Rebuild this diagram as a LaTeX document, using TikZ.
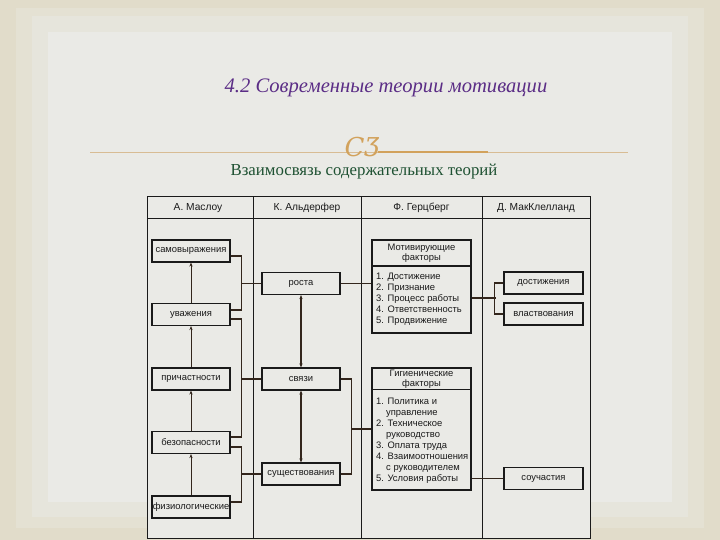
\documentclass[tikz,border=0pt]{standalone}
\usepackage{fontspec}
\setmainfont{Liberation Serif}
\setsansfont{Liberation Sans}
\newfontfamily\ornfont{DejaVu Serif}
\usetikzlibrary{arrows.meta}
\definecolor{bgA}{HTML}{E1DCCA}
\definecolor{bgB}{HTML}{E4E1D3}
\definecolor{bgC}{HTML}{E6E5DC}
\definecolor{bgD}{HTML}{EAEAE6}
\definecolor{ttl}{HTML}{5B2D86}
\definecolor{sub}{HTML}{1E5132}
\definecolor{gold}{HTML}{D2A25C}
\definecolor{tan}{HTML}{D8BC94}
\definecolor{ink}{HTML}{1A1A1A}
\definecolor{con}{HTML}{33261C}
\tikzset{
  box/.style={draw=ink, line width=1.2pt, fill=bgD, minimum width=78pt, minimum height=22pt,
    inner sep=0pt, font=\sffamily\fontsize{9.4}{11}\selectfont, text=ink},
  bigbox/.style={draw=ink, line width=1.2pt, fill=bgD, minimum width=99pt, inner sep=0pt},
  hdr/.style={font=\sffamily\fontsize{10.2}{11}\selectfont, text=ink},
  bhdr/.style={font=\sffamily\fontsize{9.4}{10.4}\selectfont, text=ink, align=center, inner sep=0pt},
  lst/.style={font=\sffamily\fontsize{9.4}{11}\selectfont, text=ink, align=left, anchor=north west, inner sep=0pt},
  conn/.style={draw=con, line width=1.1pt},
  thickconn/.style={draw=con, line width=1.8pt},
  uparr/.style={draw=con, line width=0.9pt, -{Stealth[length=4pt,width=3.2pt]}},
  dblarr/.style={draw=con, line width=1.1pt, {Stealth[length=4pt,width=3.2pt]}-{Stealth[length=4pt,width=3.2pt]}},
  tbl/.style={draw=ink, line width=1pt}
}
\begin{document}
\begin{tikzpicture}[x=1pt,y=-1pt]
\useasboundingbox (0,0) rectangle (720,540);
% background frame
\fill[bgA] (0,0) rectangle (720,540);
\fill[bgB] (16,8) rectangle (704,528);
\fill[bgC] (32,16) rectangle (688,517);
\fill[bgD] (48,32) rectangle (672,502);

% title
\node[text=ttl, font=\fontsize{20.6}{24}\selectfont\itshape] (title) at (386,88) {4.2 Современные теории мотивации};

% ornament line
\draw[tan, line width=0.8pt] (90,152) -- (628,152);
\draw[gold, line width=1.8pt] (378,152) -- (488,152);
\node[text=gold, font=\ornfont\fontsize{26}{26}\selectfont\itshape, inner sep=0pt] (orn) at (362,147.5) {CƷ};

% subtitle
\node[text=sub, font=\fontsize{16.8}{18}\selectfont] (subtitle) at (364,172) {Взаимосвязь содержательных теорий};

% table
\draw[tbl, fill=bgD] (147,197) rectangle (590,538);
\draw[tbl] (147,219) -- (590,219);
\draw[tbl] (253,197) -- (253,538);
\draw[tbl] (361,197) -- (361,538);
\draw[tbl] (482,197) -- (482,538);
\node[hdr] (h1) at (198,208) {А. Маслоу};
\node[hdr] (h2) at (307,208) {К. Альдерфер};
\node[hdr] (h3) at (421.5,208) {Ф. Герцберг};
\node[hdr] (h4) at (536,208) {Д. МакКлелланд};

% Maslow
\node[box] (sam) at (191,251) {самовыражения};
\node[box] (uvazh) at (191,314.5) {уважения};
\node[box] (prich) at (191,379) {причастности};
\node[box] (bez) at (191,442.5) {безопасности};
\node[box] (fiz) at (191,507) {физиологические};

% Alderfer
\node[box] (rosta) at (301,283.5) {роста};
\node[box] (svyazi) at (301,379) {связи};
\node[box] (sushch) at (301,474) {существования};

% McClelland
\node[box, minimum width=79pt] (dost) at (543.5,283) {достижения};
\node[box, minimum width=79pt] (vlast) at (543.5,314) {властвования};
\node[box, minimum width=79pt] (souch) at (543.5,478.5) {соучастия};

% Herzberg
\node[bigbox, minimum height=93pt] (motiv) at (421.5,286.5) {};
\draw[ink, line width=1.2pt] (372,266) -- (471,266);
\node[bhdr] (motivh) at (421.5,253.5) {Мотивирующие\\факторы};
\node[lst] (motivl) at (376,273) {1. Достижение\\2. Признание\\3. Процесс работы\\4. Ответственность\\5. Продвижение};

\node[bigbox, minimum height=122pt] (gig) at (421.5,429) {};
\draw[ink, line width=1.2pt] (372,389.5) -- (471,389.5);
\node[bhdr] (gigh) at (421.5,379) {Гигиенические\\факторы};
\node[lst] (gigl) at (376,398) {1. Политика и\\\hspace*{10pt}управление\\2. Техническое\\\hspace*{10pt}руководство\\3. Оплата труда\\4. Взаимоотношения\\\hspace*{10pt}с руководителем\\5. Условия работы};

% Maslow arrows
\draw[uparr] (uvazh.north) -- (sam.south);
\draw[uparr] (prich.north) -- (uvazh.south);
\draw[uparr] (bez.north) -- (prich.south);
\draw[uparr] (fiz.north) -- (bez.south);

% brackets Maslow -> Alderfer
\coordinate (j1) at (241,283.5);
\coordinate (j2) at (241,379);
\coordinate (j3) at (241,474);
\draw[conn] ([yshift=-5pt]sam.east) -- ++(11,0) |- ([yshift=4.5pt]uvazh.east);
\draw[conn] (j1) -- (rosta.west);
\draw[conn] ([yshift=-4.5pt]uvazh.east) -- ++(11,0) |- ([yshift=5.5pt]bez.east);
\draw[conn] (j2) -- (svyazi.west);
\draw[conn] ([yshift=-4.5pt]bez.east) -- ++(11,0) |- ([yshift=5pt]fiz.east);
\draw[conn] (j3) -- (sushch.west);

% Alderfer arrows
\draw[dblarr] (rosta.south) -- (svyazi.north);
\draw[dblarr] (svyazi.south) -- (sushch.north);

% Alderfer -> Herzberg
\draw[conn] (rosta.east) -- (rosta.east -| motiv.west);
\coordinate (j4) at (351,429);
\draw[conn] (svyazi.east) -- ++(11,0) |- (sushch.east);
\draw[conn] (j4) -- (gig.west);

% Herzberg -> McClelland
\coordinate (j5) at (496,298);
\draw[thickconn] ([yshift=-11.5pt]motiv.east) -- (j5);
\draw[conn] (dost.west) -- ++(-8.5,0) |- (vlast.west);
\draw[thickconn] (souch.west -| gig.east) -- (souch.west);
\end{tikzpicture}
\end{document}
